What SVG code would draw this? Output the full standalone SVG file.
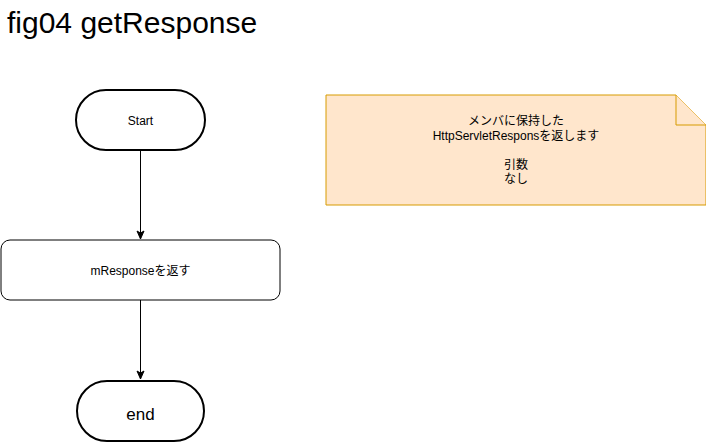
<svg xmlns="http://www.w3.org/2000/svg" width="706" height="442" viewBox="0 0 706 442">
<defs>
<style>
text{font-family:"Liberation Sans","Noto Sans CJK JP",sans-serif;fill:#000;text-anchor:middle}
.term{fill:#fff;stroke:#000;stroke-width:2}
.proc{fill:#fff;stroke:#000;stroke-width:1}
.note{fill:#ffe6cc;stroke:#d79b00;stroke-width:1}
.edge{stroke:#000;stroke-width:1;fill:none}
.t12{font-size:12px}
</style>
<marker id="arr" markerWidth="10" markerHeight="10" refX="9" refY="5" orient="auto" markerUnits="userSpaceOnUse">
<path d="M1,1.5 L9,5 L1,8.5 L3,5 Z" fill="#000" stroke="#000" stroke-width="1"/>
</marker>
</defs>
<rect width="706" height="442" fill="#fff"/>
<text x="7" y="33" style="font-size:30px;text-anchor:start">fig04 getResponse</text>
<g id="connectors">
<path class="edge" d="M140.5,151 L140.5,239" marker-end="url(#arr)"/>
<path class="edge" d="M140.5,300 L140.5,379" marker-end="url(#arr)"/>
</g>
<g id="start">
<rect class="term" x="76" y="90" width="129" height="60" rx="30" ry="30"/>
<text class="t12" x="140.5" y="125">Start</text>
</g>
<g id="process">
<rect class="proc" x="1" y="240" width="279" height="60" rx="9" ry="9"/>
<text class="t12" x="140.5" y="275">mResponseを返す</text>
</g>
<g id="end">
<rect class="term" x="77" y="381" width="127" height="60" rx="30" ry="30"/>
<text x="140.5" y="420" style="font-size:17px">end</text>
</g>
<g id="note">
<path class="note" d="M326,95 L676,95 L706,125 L706,205 L326,205 Z"/>
<path class="note" d="M676,95 L676,125 L706,125" fill="none"/>
<text class="t12" x="516" y="125">メンバに保持した</text>
<text class="t12" x="516" y="140">HttpServletResponsを返します</text>
<text class="t12" x="516" y="169">引数</text>
<text class="t12" x="516" y="183">なし</text>
</g>
</svg>
